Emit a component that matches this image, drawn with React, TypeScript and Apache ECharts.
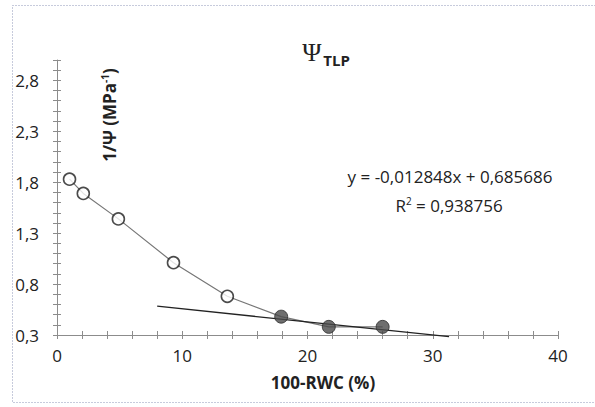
import React, { useEffect, useRef } from "react";
import * as echarts from "echarts";

const openX = [1.0, 2.1, 4.9, 9.3, 13.6];
const openY = [1.83, 1.69, 1.44, 1.01, 0.68];
const filledX = [17.9, 21.7, 26.0];
const filledY = [0.48, 0.38, 0.38];
const fitSlope = -0.012848;
const fitIntercept = 0.685686;
const fitRange = [8, 31.3];
const equationText = "y = -0,012848x + 0,685686";
const r2Text = "0,938756";

const yMin = 0.3;
const yMax = 3.0;
const yStep = 0.1;
const yLabelStep = 0.5;
const xMin = 0;
const xMax = 40;
const xStep = 2;
const xLabelStep = 10;

const FONT = "'Open Sans', 'Noto Sans', sans-serif";

export default function App() {
  const ref = useRef<HTMLDivElement>(null);
  useEffect(() => {
    if (!ref.current) return;
    const chart = echarts.init(ref.current, null, { renderer: "svg" });
    const allPts = openX.map((x, i) => [x, openY[i]]).concat(filledX.map((x, i) => [x, filledY[i]]));
    const fitPts = fitRange.map((x) => [x, fitSlope * x + fitIntercept]);
    const axisColor = "#8c8c8c";
    const yFmt = (v: number) => {
      const k = (v - yMin) / yLabelStep;
      return Math.abs(k - Math.round(k)) < 1e-6 ? v.toFixed(1).replace(".", ",") : "";
    };
    const xFmt = (v: number) => (Math.abs(v % xLabelStep) < 1e-6 ? String(v) : "");
    const baseX = {
      type: "value",
      min: xMin,
      max: xMax,
      interval: xStep,
      position: "bottom",
      splitLine: { show: false },
      axisLine: { lineStyle: { color: axisColor, width: 1 } },
      axisTick: { length: 4, lineStyle: { color: axisColor } },
    };
    const baseY = {
      type: "value",
      min: yMin,
      max: yMax,
      interval: yStep,
      position: "left",
      splitLine: { show: false },
      axisLine: { lineStyle: { color: axisColor, width: 1 } },
      axisTick: { length: 4, lineStyle: { color: axisColor } },
    };
    chart.setOption({
      animation: false,
      backgroundColor: "#ffffff",
      grid: { left: 57, top: 60, width: 501, height: 275, containLabel: false },
      xAxis: [
        {
          ...baseX,
          axisLabel: { formatter: xFmt, color: "#222", fontSize: 17, fontFamily: FONT, margin: 12 },
        },
        {
          ...baseX,
          axisLine: { show: false },
          axisTick: { ...baseX.axisTick, inside: true },
          axisLabel: { show: false },
        },
      ],
      yAxis: [
        {
          ...baseY,
          axisLabel: { formatter: yFmt, color: "#222", fontSize: 17, fontFamily: FONT, margin: 18 },
        },
        {
          ...baseY,
          axisLine: { show: false },
          axisTick: { ...baseY.axisTick, inside: true },
          axisLabel: { show: false },
        },
      ],
      series: [
        {
          type: "line",
          data: allPts,
          symbol: "none",
          lineStyle: { color: "#777", width: 1.2 },
          z: 2,
        },
        {
          type: "line",
          data: fitPts,
          symbol: "none",
          clip: false,
          lineStyle: { color: "#222", width: 1.3 },
          z: 3,
        },
        {
          type: "scatter",
          data: openX.map((x, i) => [x, openY[i]]),
          symbol: "circle",
          symbolSize: 12,
          itemStyle: { color: "#ffffff", borderColor: "#1e1e1e", borderWidth: 1.6 },
          z: 4,
        },
        {
          type: "scatter",
          data: filledX.map((x, i) => [x, filledY[i]]),
          symbol: "circle",
          symbolSize: 13,
          itemStyle: { color: "#4a4a4a", borderColor: "#2a2a2a", borderWidth: 1 },
          z: 4,
        },
      ],
      graphic: [
        {
          type: "rect",
          shape: { x: 12.5, y: 5.5, width: 620, height: 397 },
          style: { fill: "none", stroke: "#8e96b8", lineWidth: 1, lineDash: [1, 2] },
          silent: true,
          z: -1,
        },
        {
          type: "text",
          x: 326,
          y: 52,
          style: {
            text: "{psi|Ψ}{sub|TLP}",
            align: "center",
            verticalAlign: "middle",
            rich: {
              psi: { fontFamily: "'Liberation Serif', serif", fontSize: 26, fill: "#222" },
              sub: { fontFamily: FONT, fontSize: 15, fontWeight: "bold", fill: "#222", padding: [16, 0, 0, 2] },
            },
          },
        },
        {
          type: "text",
          x: 109,
          y: 115,
          rotation: Math.PI / 2,
          style: {
            text: "{a|1/Ψ (MPa}{sup|-1}{a|)}",
            align: "center",
            verticalAlign: "middle",
            rich: {
              a: { fontFamily: FONT, fontSize: 17, fontWeight: "bold", fill: "#222" },
              sup: { fontFamily: FONT, fontSize: 10, fontWeight: "bold", fill: "#222", padding: [0, 0, 8, 0] },
            },
          },
        },
        {
          type: "text",
          x: 323,
          y: 382,
          style: {
            text: "100-RWC (%)",
            align: "center",
            verticalAlign: "middle",
            fontFamily: FONT,
            fontSize: 17,
            fontWeight: "bold",
            fill: "#222",
          },
        },
        {
          type: "text",
          x: 450,
          y: 176,
          style: {
            text: equationText,
            align: "center",
            verticalAlign: "middle",
            fontFamily: FONT,
            fontSize: 17,
            fill: "#222",
          },
        },
        {
          type: "text",
          x: 449,
          y: 205,
          style: {
            text: "{a|R}{sup|2}{a| = " + r2Text + "}",
            align: "center",
            verticalAlign: "middle",
            rich: {
              a: { fontFamily: FONT, fontSize: 17, fill: "#222" },
              sup: { fontFamily: FONT, fontSize: 10, fill: "#222", padding: [0, 0, 8, 0] },
            },
          },
        },
      ],
    });
    return () => chart.dispose();
  }, []);
  return <div ref={ref} style={{ width: 595, height: 407, position: "absolute", left: 0, top: 0 }} />;
}
